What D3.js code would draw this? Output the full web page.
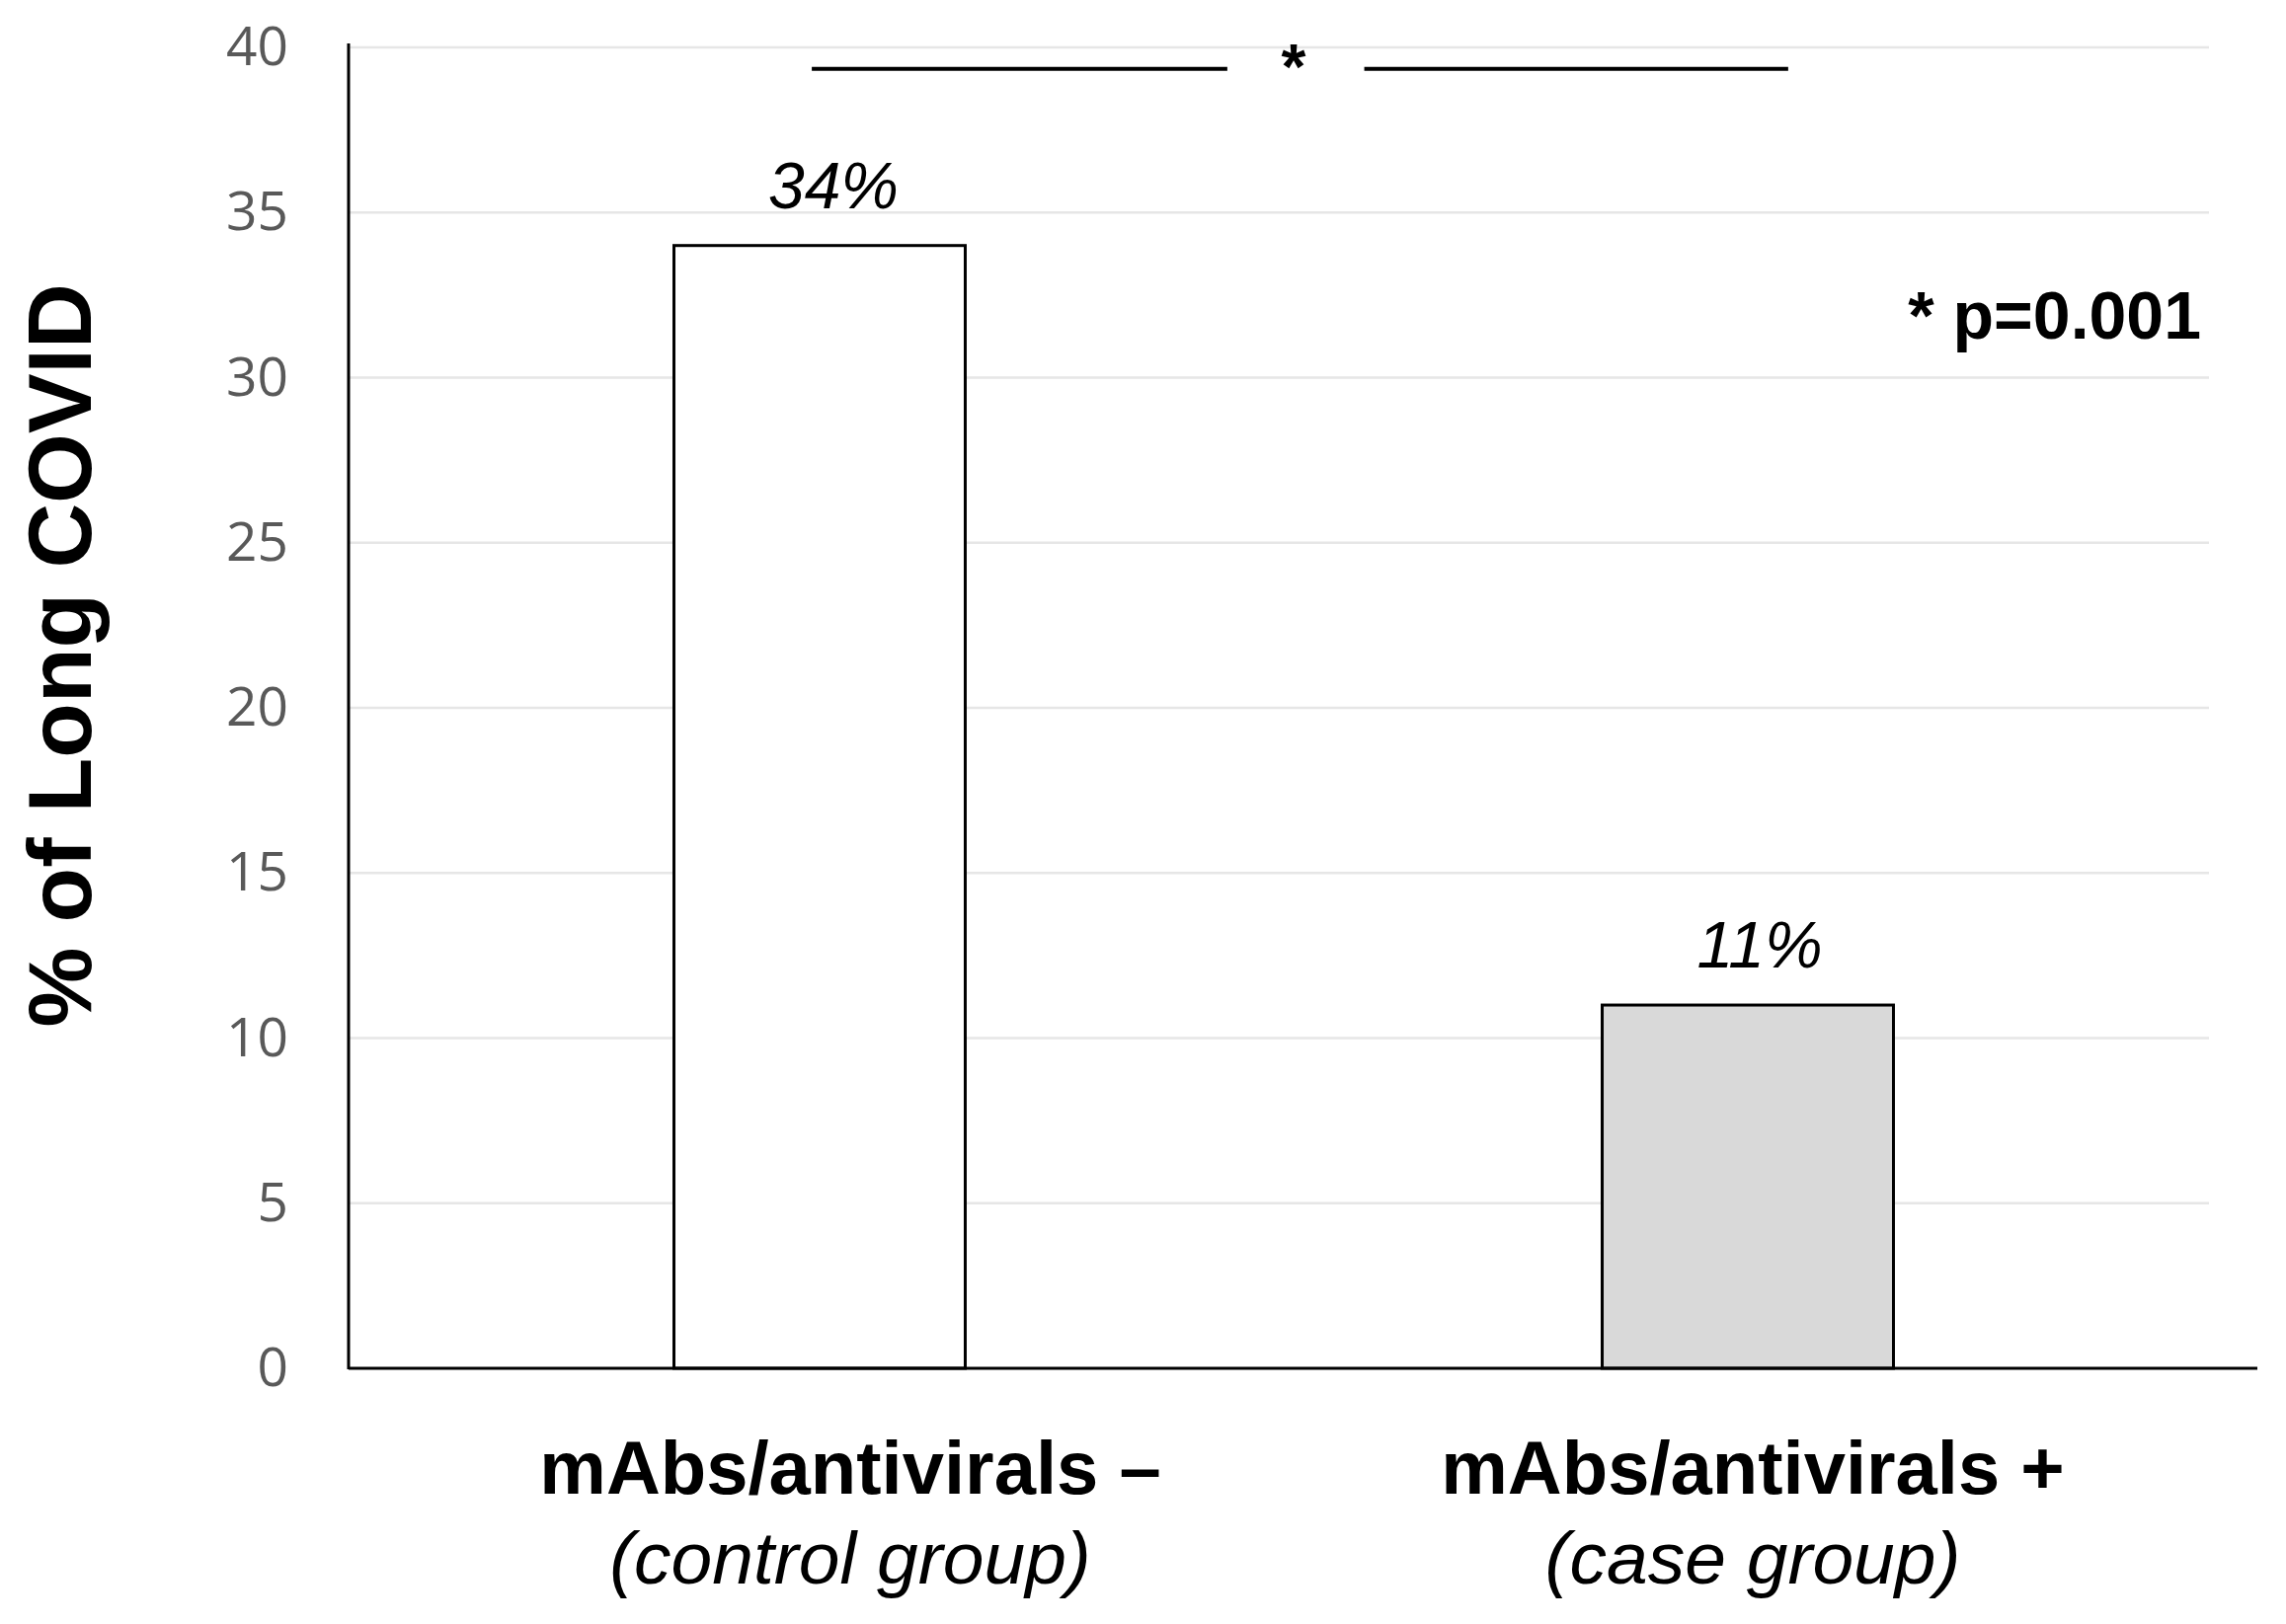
<!DOCTYPE html>
<html>
<head>
<meta charset="utf-8">
<script src="https://cdn.jsdelivr.net/npm/d3@7"></script>
<style>
  html, body { margin: 0; padding: 0; background: #ffffff; }
  svg { display: block; }
</style>
</head>
<body>
<svg id="chart" width="2315" height="1645"></svg>
<script>
// ---- data ----
const categories = ["mAbs/antivirals \u2013", "mAbs/antivirals +"];
const subLabels = ["(control group)", "(case group)"];
const values = [34, 11];
const valueLabels = ["34%", "11%"];
const barFills = ["#ffffff", "#d9d9d9"];
const yTicks = [0, 5, 10, 15, 20, 25, 30, 35, 40];
const yTitle = "% of Long COVID";
const sigMark = "*";
const sigNote = "* p=0.001";

// ---- layout ----
const W = 2315, H = 1645;
const axisX = 353;
const gridRight = 2237;
const xAxisRight = 2286;
const labelShift = [31, 5];
const valueShift = [14, 12];

const svg = d3.select("#chart");
svg.append("rect").attr("width", W).attr("height", H).attr("fill", "#fff");

const y = d3.scaleLinear().domain([0, 40]).range([1386, 48]);
const x = d3.scaleBand().domain(categories).range([360, 2240]).paddingInner(0).paddingOuter(0);
const barW = x.bandwidth() * 0.3138;
// continuous helper over category positions (0..2 across plot) for the bracket
const xc = d3.scaleLinear().domain([0, 2]).range([356, 2243]);

// gridlines
svg.append("g").selectAll("line").data(yTicks.filter(d => d > 0)).join("line")
  .attr("x1", axisX).attr("x2", gridRight)
  .attr("y1", d => y(d)).attr("y2", d => y(d))
  .attr("stroke", "#e6e6e6").attr("stroke-width", 2.5);

// y axis via d3.axisLeft for tick labels
const yAxis = d3.axisLeft(y).tickValues(yTicks).tickSize(0).tickPadding(61);
const gy = svg.append("g").attr("transform", `translate(${axisX},0)`).call(yAxis);
gy.select(".domain").remove();
gy.selectAll("text")
  .attr("font-family", "'Open Sans', sans-serif")
  .attr("font-size", 55)
  .attr("fill", "#595959");

// bars
svg.append("g").selectAll("rect").data(values).join("rect")
  .attr("x", (d, i) => x(categories[i]) + x.bandwidth() / 2 - barW / 2)
  .attr("y", d => y(d))
  .attr("width", barW)
  .attr("height", d => y(0) - y(d))
  .attr("fill", (d, i) => barFills[i])
  .attr("stroke", "#000")
  .attr("stroke-width", 3);

// axes lines
svg.append("line").attr("x1", axisX).attr("x2", axisX).attr("y1", y(40) - 4).attr("y2", y(0) + 1)
  .attr("stroke", "#000").attr("stroke-width", 3);
svg.append("line").attr("x1", axisX).attr("x2", xAxisRight).attr("y1", y(0)).attr("y2", y(0))
  .attr("stroke", "#000").attr("stroke-width", 3);

// value labels
svg.append("g").selectAll("text").data(values).join("text")
  .attr("x", (d, i) => x(categories[i]) + x.bandwidth() / 2 + valueShift[i])
  .attr("y", d => y(d) - 38)
  .attr("text-anchor", "middle")
  .attr("font-family", "'Liberation Sans', Arial, sans-serif")
  .attr("font-style", "italic")
  .attr("font-size", 66)
  .attr("fill", "#000")
  .text((d, i) => valueLabels[i]);

// category labels
const gl = svg.append("g");
gl.selectAll("text.cat").data(categories).join("text").attr("class", "cat")
  .attr("x", (d, i) => x(d) + x.bandwidth() / 2 + labelShift[i])
  .attr("y", 1513)
  .attr("text-anchor", "middle")
  .attr("font-family", "'Liberation Sans', Arial, sans-serif")
  .attr("font-weight", "bold")
  .attr("font-size", 76)
  .attr("fill", "#000")
  .text(d => d);
gl.selectAll("text.sub").data(subLabels).join("text").attr("class", "sub")
  .attr("x", (d, i) => x(categories[i]) + x.bandwidth() / 2 + labelShift[i])
  .attr("y", 1604)
  .attr("text-anchor", "middle")
  .attr("font-family", "'Liberation Sans', Arial, sans-serif")
  .attr("font-style", "italic")
  .attr("font-size", 75)
  .attr("fill", "#000")
  .text(d => d);

// y title
svg.append("text")
  .attr("transform", "translate(92,664) rotate(-90)")
  .attr("text-anchor", "middle")
  .attr("font-family", "'Liberation Sans', Arial, sans-serif")
  .attr("font-weight", "bold")
  .attr("font-size", 91)
  .attr("fill", "#000")
  .text(yTitle);

// significance bracket
const sigY = y(39.35);
const segs = [[0.494, 0.940], [1.087, 1.542]];
svg.append("g").selectAll("line").data(segs).join("line")
  .attr("x1", d => xc(d[0])).attr("x2", d => xc(d[1]))
  .attr("y1", sigY).attr("y2", sigY)
  .attr("stroke", "#000").attr("stroke-width", 4);
svg.append("text")
  .attr("x", xc(1.011)).attr("y", 90)
  .attr("text-anchor", "middle")
  .attr("font-family", "'Liberation Sans', Arial, sans-serif")
  .attr("font-weight", "bold")
  .attr("font-size", 64)
  .attr("fill", "#000")
  .text(sigMark);

svg.append("text")
  .attr("x", 2229).attr("y", 343)
  .attr("text-anchor", "end")
  .attr("font-family", "'Liberation Sans', Arial, sans-serif")
  .attr("font-weight", "bold")
  .attr("font-size", 68)
  .attr("fill", "#000")
  .text(sigNote);
</script>
</body>
</html>
